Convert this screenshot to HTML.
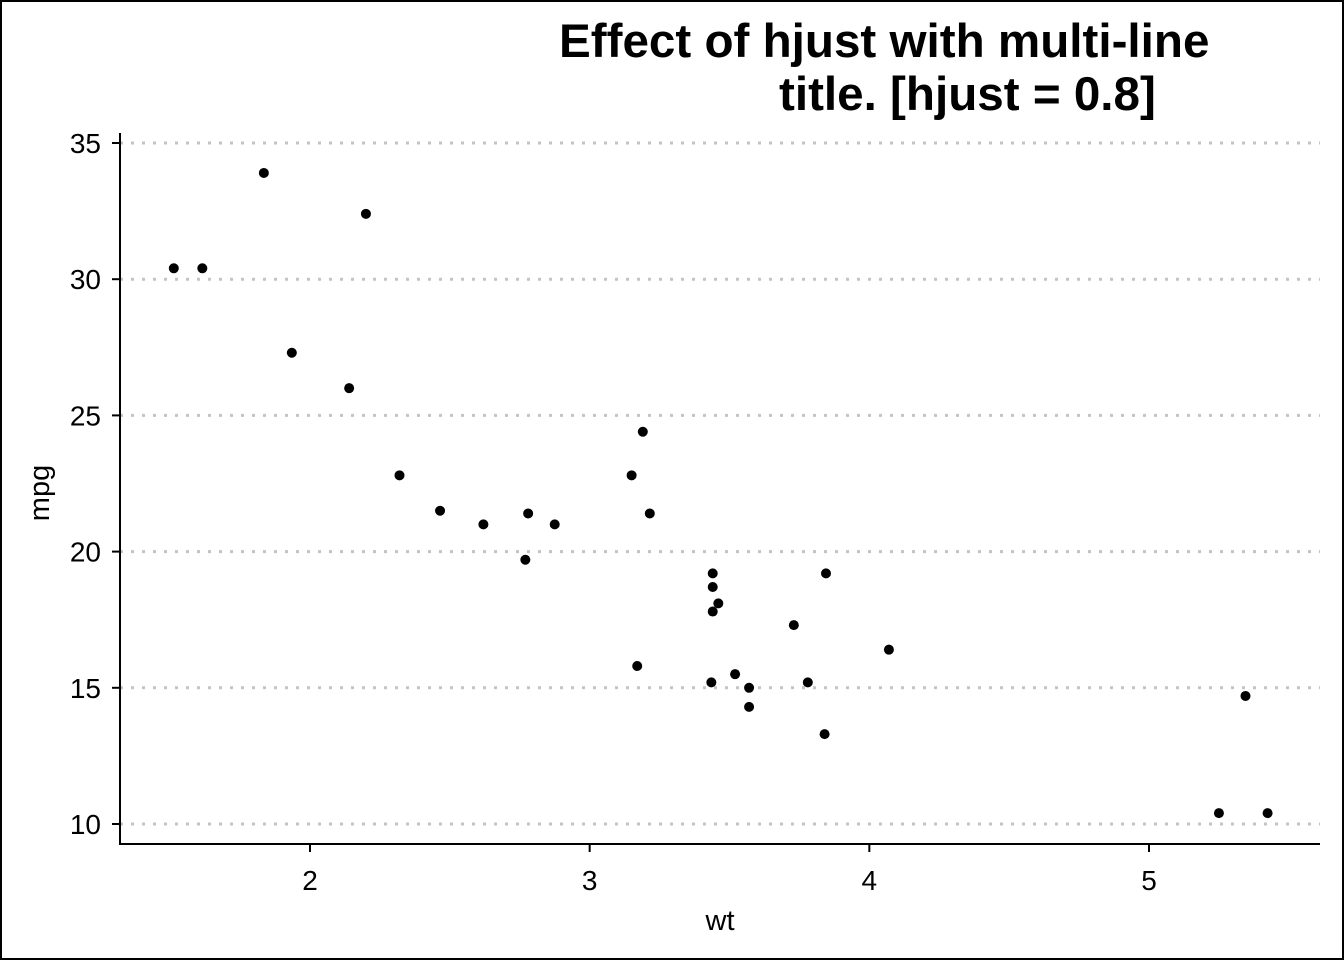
<!DOCTYPE html>
<html><head><meta charset="utf-8"><style>
html,body{margin:0;padding:0;background:#fff}
svg{display:block;font-family:"Liberation Sans",Arial,sans-serif}
</style></head><body>
<svg width="1344" height="960" viewBox="0 0 1344 960">
<rect x="1" y="1" width="1342" height="958" fill="#fff" stroke="#000" stroke-width="2"/>
<text x="559" y="57" font-size="47.6" font-weight="bold">Effect of hjust with multi-line</text>
<text x="779" y="110" font-size="47.6" font-weight="bold">title. [hjust = 0.8]</text>
<g id="grid"></g>
<g id="axes"></g>
<g id="pts"></g>
<text x="720" y="930" font-size="29" text-anchor="middle">wt</text>
<text transform="translate(49,493) rotate(-90)" font-size="29" text-anchor="middle">mpg</text>
</svg>
<script>
const wt=[2.620,2.875,2.320,3.215,3.440,3.460,3.570,3.190,3.150,3.440,3.440,4.070,3.730,3.780,5.250,5.424,5.345,2.200,1.615,1.835,2.465,3.520,3.435,3.840,3.845,1.935,2.140,1.513,3.170,2.770,3.570,2.780];
const mpg=[21.0,21.0,22.8,21.4,18.7,18.1,14.3,24.4,22.8,19.2,17.8,16.4,17.3,15.2,10.4,10.4,14.7,32.4,30.4,33.9,21.5,15.5,15.2,13.3,19.2,27.3,26.0,30.4,15.8,19.7,15.0,21.4];
const xTicks=[2,3,4,5];
const yTicks=[10,15,20,25,30,35];
const X=v=>310+(v-2)*279.67;
const Y=v=>824-(v-10)*27.24;
const NS="http://www.w3.org/2000/svg";
function mk(tag,attrs,parent){const e=document.createElementNS(NS,tag);for(const k in attrs)e.setAttribute(k,attrs[k]);parent.appendChild(e);return e;}
const grid=document.getElementById('grid'),axes=document.getElementById('axes'),pts=document.getElementById('pts');
yTicks.forEach(t=>{
  const l=mk('line',{x1:120,x2:1320,y1:Y(t),y2:Y(t),stroke:'#c4c4c4','stroke-width':3,'stroke-dasharray':'3 8'},grid);
  
  
  const tk=mk('line',{x1:112,x2:120,y1:Y(t),y2:Y(t),stroke:'#000','stroke-width':2},axes);
  
  
  const tx=mk('text',{x:101,y:Y(t)+10,'font-size':28,'text-anchor':'end',fill:'#000'},axes);
  tx.textContent=t;
  
  
});
xTicks.forEach(t=>{
  const tk=mk('line',{x1:X(t),x2:X(t),y1:844,y2:852,stroke:'#000','stroke-width':2},axes);
  
  
  const tx=mk('text',{x:X(t),y:890,'font-size':28,'text-anchor':'middle',fill:'#000'},axes);
  tx.textContent=t;
  
  
});
const ya=mk('line',{x1:120,x2:120,y1:133,y2:845,stroke:'#000','stroke-width':2},axes);


const xa=mk('line',{x1:119,x2:1320,y1:844,y2:844,stroke:'#000','stroke-width':2},axes);


wt.forEach((w,i)=>{
  const c=mk('circle',{cx:X(w),cy:Y(mpg[i]),r:5,fill:'#000'},pts);
  
  
});
</script>
</body></html>
